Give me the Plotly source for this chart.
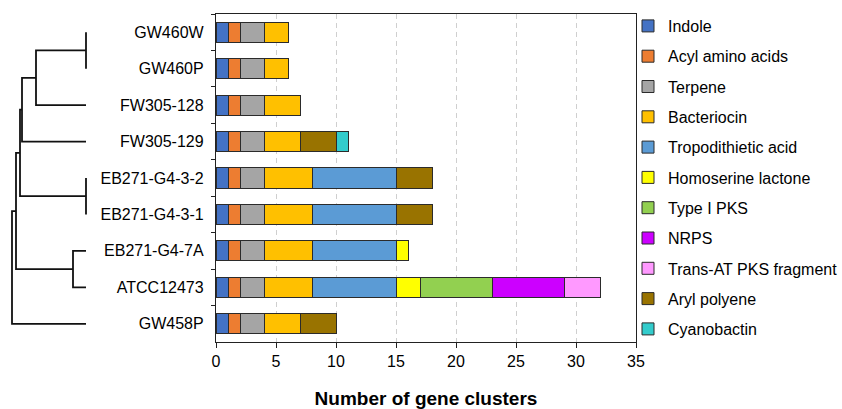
import plotly.graph_objects as go

# ---------------- data ----------------
strains = ["GW460W", "GW460P", "FW305-128", "FW305-129", "EB271-G4-3-2",
           "EB271-G4-3-1", "EB271-G4-7A", "ATCC12473", "GW458P"]

cluster_types = ["Indole", "Acyl amino acids", "Terpene", "Bacteriocin",
                 "Tropodithietic acid", "Homoserine lactone", "Type I PKS",
                 "NRPS", "Trans-AT PKS fragment", "Aryl polyene", "Cyanobactin"]

indole        = [1, 1, 1, 1, 1, 1, 1, 1, 1]
acyl_amino    = [1, 1, 1, 1, 1, 1, 1, 1, 1]
terpene       = [2, 2, 2, 2, 2, 2, 2, 2, 2]
bacteriocin   = [2, 2, 3, 3, 4, 4, 4, 4, 3]
tropodithietic= [0, 0, 0, 0, 7, 7, 7, 7, 0]
homoserine    = [0, 0, 0, 0, 0, 0, 1, 2, 0]
type1_pks     = [0, 0, 0, 0, 0, 0, 0, 6, 0]
nrps          = [0, 0, 0, 0, 0, 0, 0, 6, 0]
trans_at_pks  = [0, 0, 0, 0, 0, 0, 0, 3, 0]
aryl_polyene  = [0, 0, 0, 3, 3, 3, 0, 0, 3]
cyanobactin   = [0, 0, 0, 1, 0, 0, 0, 0, 0]

series = [indole, acyl_amino, terpene, bacteriocin, tropodithietic, homoserine,
          type1_pks, nrps, trans_at_pks, aryl_polyene, cyanobactin]

colors = ["#4472C4", "#ED7D31", "#A5A5A5", "#FFC000", "#5B9BD5", "#FFFF00",
          "#92D050", "#CC00FF", "#FF99FF", "#997300", "#33CCCC"]

# dendrogram linkage: (child a, child b, merge distance); leaves are 0..8
linkage = [(0, 1, 0), (9, 2, 50), (10, 3, 64), (4, 5, 0), (11, 12, 66),
           (6, 7, 13), (13, 14, 70), (15, 8, 74)]

FONT = "Arial, Liberation Sans, Helvetica, sans-serif"

fig = go.Figure()

for name, vals, col in zip(cluster_types, series, colors):
    fig.add_trace(go.Bar(
        y=strains, x=[v if v else None for v in vals], name=name,
        orientation="h", marker=dict(color=col, line=dict(color="#2b2b2b", width=1)),
        legendgroup=name, xaxis="x", yaxis="y"))

# build dendrogram segments
n = len(strains)
pos = {i: (float(i), 0.0) for i in range(n)}  # node -> (y, height)
xs, ys = [], []
for k, (a, b, h) in enumerate(linkage):
    ya, ha = pos[a]
    yb, hb = pos[b]
    xs += [ha, h, h, hb, None]
    ys += [ya, ya, yb, yb, None]
    pos[n + k] = ((ya + yb) / 2.0, h)

fig.add_trace(go.Scatter(x=xs, y=ys, mode="lines", line=dict(color="#111", width=1.8),
                         showlegend=False, hoverinfo="skip", xaxis="x2", yaxis="y2"))

W, H = 842, 409
ml, mr, mt, mb = 0, 206, 14, 67
pw = W - ml - mr
ph = H - mt - mb

fig.update_layout(
    width=W, height=H, margin=dict(l=ml, r=mr, t=mt, b=mb, autoexpand=False),
    paper_bgcolor="white", plot_bgcolor="white",
    barmode="stack", bargap=0.45,
    font=dict(family=FONT, size=16, color="#000"),
    xaxis=dict(domain=[216 / pw, 1], range=[0, 35], dtick=5, anchor="y",
               showline=True, linecolor="#222", linewidth=1.3, mirror=True,
               ticks="outside", ticklen=5, tickcolor="#222",
               showgrid=True, gridcolor="#cfcfcf", griddash="5px,4px", gridwidth=1,
               zeroline=False, tickfont=dict(size=16),
               title=dict(text="<b>Number of gene clusters</b>", font=dict(size=19),
                          standoff=22)),
    yaxis=dict(categoryorder="array", categoryarray=strains, range=[8.5, -0.5],
               anchor="x", showline=True, linecolor="#222", linewidth=1.3, mirror=True,
               ticks="outside", ticklen=4, tickcolor="#222", tickson="boundaries",
               showgrid=False, tickfont=dict(size=16), ticklabelstandoff=8),
    xaxis2=dict(domain=[11 / pw, 87 / pw], range=[75, -1], anchor="y2", visible=False),
    yaxis2=dict(domain=[0, 1], range=[8.5, -0.5], anchor="x2", visible=False),
    legend=dict(x=1.0 - 8 / pw, xanchor="left", y=1.0 + 5 / ph, yanchor="top",
                traceorder="grouped", tracegroupgap=6.5, font=dict(size=16),
                bgcolor="rgba(0,0,0,0)", borderwidth=0, maxheight=400),
)

fig.write_html("out.html", config={"displayModeBar": False},
               post_script="document.body.style.margin='0';document.body.style.overflow='hidden';")
